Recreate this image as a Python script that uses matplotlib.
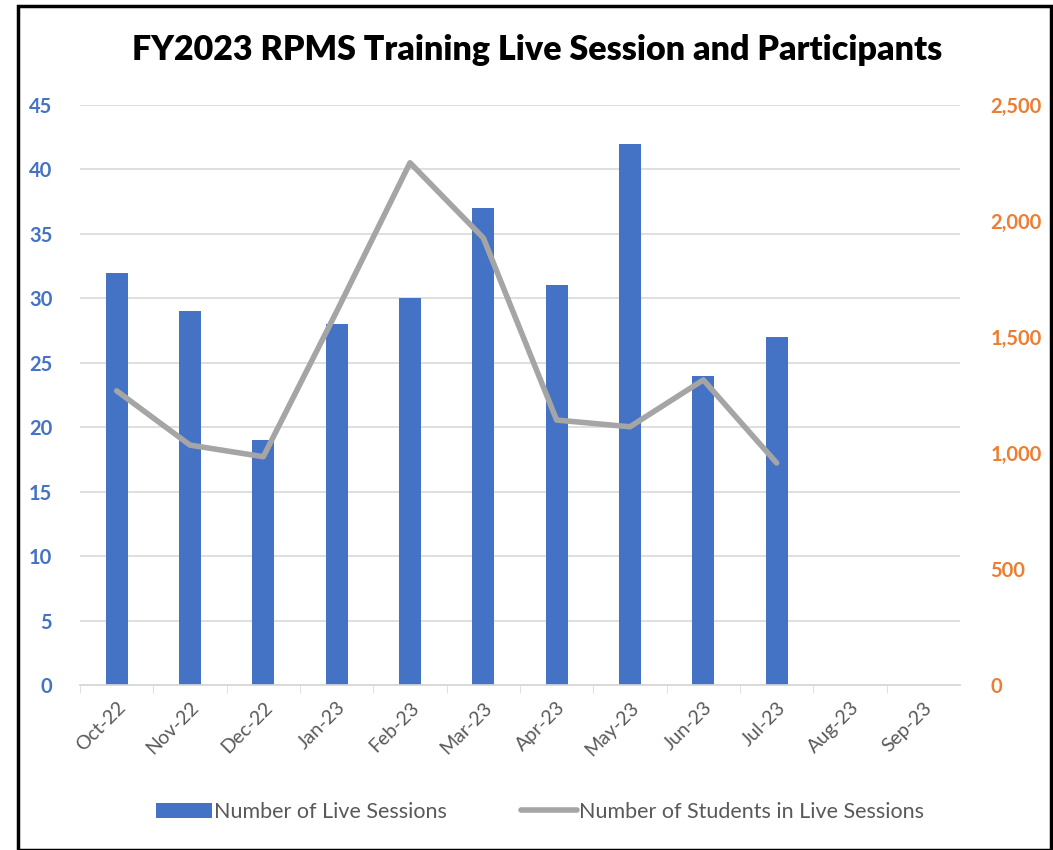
import matplotlib.pyplot as plt
from matplotlib.patches import Rectangle
from matplotlib.font_manager import FontProperties

months = ['Oct-22', 'Nov-22', 'Dec-22', 'Jan-23', 'Feb-23', 'Mar-23',
          'Apr-23', 'May-23', 'Jun-23', 'Jul-23', 'Aug-23', 'Sep-23']
sessions = [32, 29, 19, 28, 30, 37, 31, 42, 24, 27]
students = [1268, 1034, 984, 1610, 2251, 1927, 1142, 1113, 1315, 957]

plt.rcParams['font.family'] = ['Lato', 'DejaVu Sans']

fig = plt.figure(figsize=(10.53, 8.5), dpi=100)
ax = fig.add_axes([80 / 1053, 1 - 685 / 850, 880 / 1053, 580 / 850])
ax2 = ax.twinx()

x = list(range(len(months)))
bars = ax.bar(x[:len(sessions)], sessions, width=0.3, color='#4472C4', zorder=3,
              label='Number of Live Sessions')
line, = ax2.plot(x[:len(students)], students, color='#A5A5A5', lw=4,
                 solid_joinstyle='round', solid_capstyle='round', zorder=4,
                 label='Number of Students in Live Sessions')

ax.set_xlim(-0.5, len(months) - 0.5)
ax.set_xticks(x)
ax.set_xticklabels(months, rotation=45, ha='right', rotation_mode='anchor',
                   color='#595959', fontsize=14)
ax.set_xticks([i + 0.5 for i in x[:-1]] + [-0.5], minor=True)
ax.tick_params(axis='x', which='major', length=0, pad=10)
ax.tick_params(axis='x', which='minor', length=6, color='#D9D9D9')

ax.grid(axis='y', color='#D9D9D9', lw=1.2, zorder=0)
ax.set_axisbelow(True)
for a in (ax, ax2):
    for s in ('top', 'left', 'right'):
        a.spines[s].set_visible(False)
    a.spines['bottom'].set_color('#D9D9D9')
    a.spines['bottom'].set_linewidth(1.2)

ax.tick_params(axis='y', length=0, pad=20)
ax2.tick_params(axis='y', length=0, pad=22)

bold = FontProperties(family='Lato', weight='bold', size=14.5)
ax.set_ylim(0, 45)
left_ticks = list(range(0, 46, 5))
ax.set_yticks(left_ticks)
ax.set_yticklabels([str(v) for v in left_ticks], fontproperties=bold, color='#4472C4')
ax2.set_ylim(0, 2500)
right_ticks = list(range(0, 2501, 500))
ax2.set_yticks(right_ticks)
ax2.set_yticklabels([f'{v:,}' for v in right_ticks], fontproperties=bold, color='#ED7D31')

fig.text(537 / 1053, 1 - 50 / 850, 'FY2023 RPMS Training Live Session and Participants',
         ha='center', va='center', fontsize=24.5, fontweight='heavy')

fig.legend(handles=[bars, line], loc='center', bbox_to_anchor=(540 / 1053, 1 - 812 / 850),
           ncol=2, frameon=False, fontsize=15.5, labelcolor='#595959',
           handlelength=2.6, handletextpad=0.1, columnspacing=3.4)

fig.patches.append(Rectangle((18 / 1053, 0), 1 - 20 / 1053, 1 - 6 / 850,
                             transform=fig.transFigure, fill=False,
                             edgecolor='black', lw=2.5))

fig.savefig('out.png', dpi=100)
